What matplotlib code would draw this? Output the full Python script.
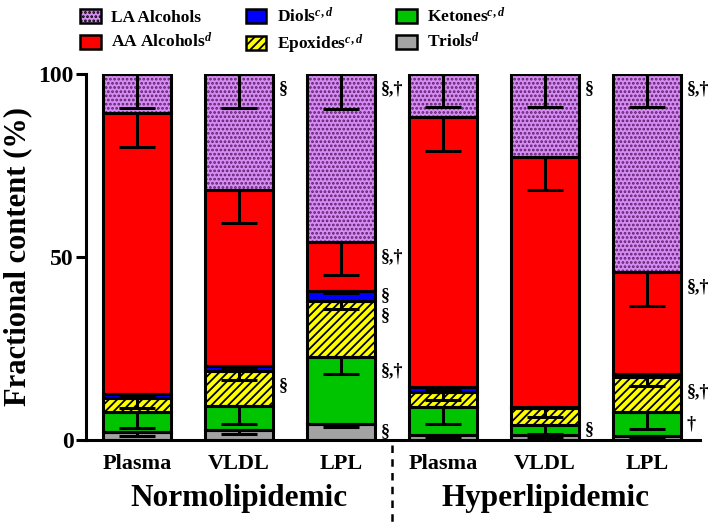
import matplotlib
matplotlib.use("Agg")
import matplotlib.pyplot as plt
from matplotlib.patches import Patch
import matplotlib.transforms as mtrans
import numpy as np

plt.rcParams['font.family'] = ['Liberation Serif', 'DejaVu Serif']
plt.rcParams['font.weight'] = 'bold'
plt.rcParams['mathtext.fontset'] = 'custom'
plt.rcParams['mathtext.rm'] = 'Liberation Serif:bold'
plt.rcParams['mathtext.it'] = 'Liberation Serif:italic:bold'
plt.rcParams['mathtext.bf'] = 'Liberation Serif:bold'
plt.rcParams['hatch.linewidth'] = 1.3

# ---- data ----
categories = ['Plasma', 'VLDL', 'LPL', 'Plasma', 'VLDL', 'LPL']
groups = ['Normolipidemic', 'Hyperlipidemic']

series_names = ['Triols', 'Ketones', 'Epoxides', 'Diols', 'AA Alcohols', 'LA Alcohols']
triols = [2.3, 2.7, 4.5, 1.5, 1.5, 1.0]
ketones = [5.4, 6.6, 18.3, 7.6, 2.6, 6.7]
epoxides = [3.7, 9.6, 15.3, 3.9, 4.6, 9.5]
diols = [1.3, 1.4, 2.7, 1.5, 0.3, 0.8]
aa_alcohols = [76.6, 48.0, 13.4, 73.7, 68.4, 27.8]
la_alcohols = [10.7, 31.7, 45.8, 11.8, 22.6, 54.2]

triols_err = [1.1, 1.1, 1.0, 0.8, 0.8, 0.5]
ketones_err = [4.4, 4.8, 4.8, 4.7, 2.5, 4.7]
epoxides_err = [2.7, 2.6, 2.4, 2.1, 2.5, 2.5]
diols_err = [0.5, 0.5, 0.5, 0.5, 0.3, 0.4]
aa_err = [9.3, 9.1, 9.1, 9.2, 9.1, 9.2]
la_err = [9.2, 9.2, 9.6, 8.9, 8.9, 8.9]

legend_labels = ['LA Alcohols', r'AA Alcohols$^{d}$', r'Diols$^{c,d}$',
                 r'Epoxides$^{c,d}$', r'Ketones$^{c,d}$', r'Triols$^{d}$']

annotations = [
    (1, 'LA Alcohols', '§'), (1, 'Epoxides', '§'),
    (2, 'LA Alcohols', '§,†'), (2, 'AA Alcohols', '§,†'), (2, 'Diols', '§'),
    (2, 'Epoxides', '§'), (2, 'Ketones', '§,†'), (2, 'Triols', '§'),
    (4, 'LA Alcohols', '§'), (4, 'Ketones', '§'),
    (5, 'LA Alcohols', '§,†'), (5, 'AA Alcohols', '§,†'),
    (5, 'Epoxides', '§,†'), (5, 'Ketones', '†'),
]

# ---- styles ----
values = [triols, ketones, epoxides, diols, aa_alcohols, la_alcohols]
errors = [triols_err, ketones_err, epoxides_err, diols_err, aa_err, la_err]
faces = ['#a3a3a3', '#00c400', '#ffff00', '#0000ff', '#ff0000', '#d68cf2']
hatches = [None, None, '////', None, None, '....']
hatch_colors = [None, None, 'black', None, None, '#5a1f6b']

fig = plt.figure(figsize=(7.13, 5.30), dpi=100)
ax = fig.add_axes([0.1206, 0.1698, 0.8614, 0.6906])

x = np.arange(len(categories))
width = 0.667
bottom = np.zeros(len(categories))
tops = {}
for name, vals, errs, fc, h, hc in zip(series_names, values, errors, faces, hatches, hatch_colors):
    vals = np.array(vals)
    ax.bar(x, vals, width, bottom=bottom, color=fc, edgecolor='none', zorder=2)
    if h:
        ax.bar(x, vals, width, bottom=bottom, fill=False, hatch=h,
               edgecolor=hc, linewidth=0, zorder=3)
    ax.bar(x, vals, width, bottom=bottom, fill=False, edgecolor='black',
           linewidth=2.2, zorder=4)
    top = bottom + vals
    ax.errorbar(x, top, yerr=[np.array(errs), np.zeros(len(x))], fmt='none',
                ecolor='black', elinewidth=2.2, capsize=13, capthick=2.2, zorder=5)
    tops[name] = top.copy()
    bottom = top

bottoms = {n: tops[n] - np.array(v) for n, v in zip(series_names, values)}

for idx, seg, txt in annotations:
    t = tops[seg][idx]
    b = bottoms[seg][idx]
    y = max(t - 4, (t + b) / 2)
    ax.annotate(txt, xy=(x[idx] + width / 2, y), xytext=(4, 0),
                textcoords='offset points', ha='left', va='center',
                fontsize=13, fontweight='bold')

ax.set_xlim(-0.5, 5.52)
ax.set_ylim(0, 100)
ax.set_yticks([0, 50, 100])
ax.set_xticks(x)
ax.set_xticklabels(categories, fontsize=16, fontweight='bold')
ax.tick_params(axis='x', length=0, pad=10)
ax.tick_params(axis='y', length=7, width=2.2, labelsize=17, pad=2)
for lab in ax.get_yticklabels():
    lab.set_fontweight('bold')
ax.spines['top'].set_visible(False)
ax.spines['right'].set_visible(False)
ax.spines['left'].set_linewidth(2.2)
ax.spines['bottom'].set_linewidth(2.2)
ax.set_ylabel('Fractional content (%)', fontsize=22, fontweight='bold', labelpad=4)

# group labels and separator
trans = mtrans.blended_transform_factory(ax.transData, ax.transAxes)
ax.text(1, -0.16, groups[0], transform=trans, ha='center', va='center',
        fontsize=22.5, fontweight='bold')
ax.text(4, -0.16, groups[1], transform=trans, ha='center', va='center',
        fontsize=22.5, fontweight='bold')
ax.plot([2.5, 2.5], [-0.015, -0.235], transform=trans, color='black',
        linestyle=(0, (3, 2.5)), linewidth=1.8, clip_on=False)

# legend
handles = []
for fc, h, hc in zip(faces[::-1], hatches[::-1], hatch_colors[::-1]):
    handles.append(Patch(facecolor=fc, edgecolor='black', hatch=h, linewidth=1.8))
leg = fig.legend(handles, legend_labels, ncol=3, loc='upper left',
                 bbox_to_anchor=(0.09, 1.016), frameon=False,
                 prop={'size': 12.5, 'weight': 'bold'},
                 handlelength=1.2, handleheight=0.85, handletextpad=0.6,
                 columnspacing=1.9, labelspacing=0.35)

fig.savefig('out.png', dpi=100)
